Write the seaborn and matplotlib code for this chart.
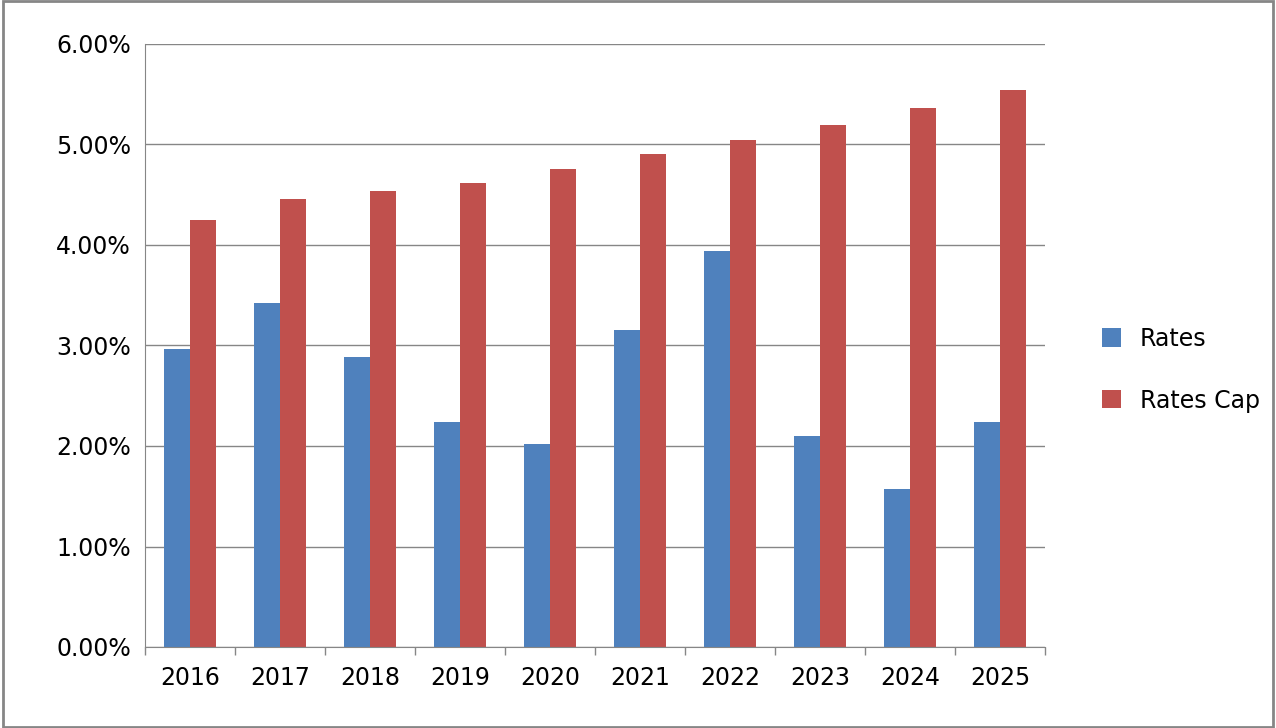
import pandas as pd
import matplotlib.pyplot as plt
import seaborn as sns
from matplotlib.ticker import FuncFormatter, FixedLocator

# data
years = ["2016", "2017", "2018", "2019", "2020", "2021", "2022", "2023", "2024", "2025"]
rates = [2.97, 3.42, 2.89, 2.24, 2.02, 3.15, 3.94, 2.10, 1.57, 2.24]
rates_cap = [4.25, 4.46, 4.54, 4.62, 4.76, 4.91, 5.04, 5.19, 5.36, 5.54]

df = pd.DataFrame({
    "Year": years * 2,
    "Value": rates + rates_cap,
    "Series": ["Rates"] * len(years) + ["Rates Cap"] * len(years),
})

sns.set_style("white")
plt.rcParams['font.family'] = ['DejaVu Sans']

fig = plt.figure(figsize=(12.76, 7.28), dpi=100)
ax = fig.add_axes([145 / 1276, 1 - 647 / 728, 900 / 1276, 603 / 728])

sns.barplot(data=df, x="Year", y="Value", hue="Series",
            palette=["#4F81BD", "#C0504D"], width=0.58, saturation=1,
            linewidth=0, ax=ax)

ax.set_ylim(0, 6)
ax.set_xlim(-0.5, len(years) - 0.5)
ax.set_yticks([0, 1, 2, 3, 4, 5, 6])
ax.yaxis.set_major_formatter(FuncFormatter(lambda v, p: f"{v:.2f}%"))
ax.xaxis.set_minor_locator(FixedLocator([i - 0.5 for i in range(len(years) + 1)]))
ax.grid(axis="y", color="#868686", linewidth=1)
ax.set_axisbelow(True)
ax.set_xlabel("")
ax.set_ylabel("")
for s in ["top", "right"]:
    ax.spines[s].set_visible(False)
ax.spines["left"].set_color("#868686")
ax.spines["bottom"].set_color("#868686")
ax.tick_params(axis="both", labelsize=17, colors="black", length=0, pad=10)
ax.tick_params(axis="x", pad=14)
ax.tick_params(axis="x", which="minor", bottom=True, length=6, width=1,
               color="#868686", direction="out")

leg = ax.legend(loc="center left", bbox_to_anchor=(1.04, 0.46), frameon=False,
                fontsize=17, handlelength=0.8, handleheight=0.8, labelspacing=1.6)
for t in leg.get_texts():
    t.set_color("black")

border = plt.Rectangle((0.002, 0.002), 0.996, 0.996, transform=fig.transFigure,
                       fill=False, edgecolor="#868686", linewidth=2)
fig.patches.append(border)

fig.savefig("out.png", dpi=100)
